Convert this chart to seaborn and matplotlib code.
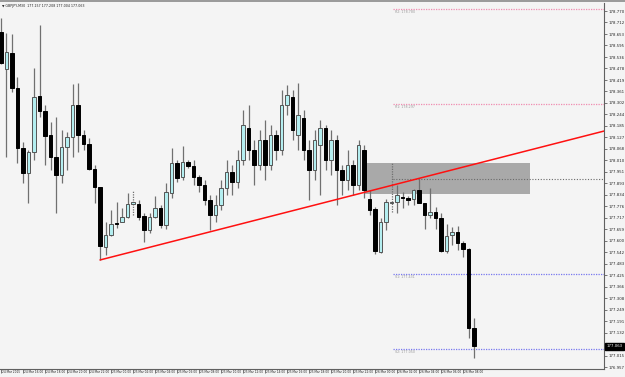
import numpy as np
import pandas as pd
import seaborn as sns
import matplotlib.pyplot as plt
import matplotlib.transforms as mtransforms
from matplotlib.patches import Rectangle

# GBPJPY M30 candles
opens = [178.663, 178.475, 178.556, 178.378, 178.073, 177.945, 178.052, 178.337, 178.261, 178.139,
         178.027, 177.935, 178.078, 178.129, 178.292, 178.139, 178.093, 177.966, 177.874, 177.569,
         177.630, 177.691, 177.696, 177.721, 177.788, 177.788, 177.727, 177.655, 177.721, 177.767,
         177.681, 177.844, 177.996, 177.925, 178.001, 177.981, 177.925, 177.884, 177.808, 177.732,
         177.783, 177.869, 177.951, 177.900, 178.012, 178.175, 178.062, 177.986, 178.113, 177.986,
         178.139, 178.062, 178.292, 178.332, 178.139, 178.226, 178.062, 177.961, 178.088, 178.175,
         178.012, 178.113, 177.961, 177.910, 177.986, 177.884, 178.062, 177.813, 177.762, 177.543,
         177.696, 177.793, 177.798, 177.823, 177.818, 177.813, 177.859, 177.793, 177.732, 177.747,
         177.716, 177.548, 177.630, 177.645, 177.589, 177.559, 177.157]
highs = [178.734, 178.658, 178.653, 178.434, 178.103, 178.062, 178.480, 178.699, 178.292, 178.205,
         178.230, 178.164, 178.154, 178.398, 178.404, 178.164, 178.124, 177.986, 177.874, 177.696,
         177.757, 177.798, 177.767, 177.844, 177.859, 177.808, 177.742, 177.742, 177.828, 177.783,
         177.895, 178.073, 178.012, 178.083, 178.012, 178.012, 177.935, 177.910, 177.834, 177.834,
         177.910, 178.012, 177.986, 178.062, 178.266, 178.292, 178.113, 178.164, 178.215, 178.190,
         178.164, 178.368, 178.393, 178.368, 178.404, 178.266, 178.113, 178.164, 178.215, 178.190,
         178.164, 178.139, 177.986, 178.062, 178.012, 178.113, 178.088, 177.859, 177.772, 177.716,
         177.813, 177.996, 177.884, 177.849, 177.828, 177.864, 177.920, 177.793, 177.869, 177.772,
         177.742, 177.686, 177.671, 177.676, 177.599, 177.564, 177.208]
lows = [178.500, 178.027, 178.358, 177.996, 177.895, 177.793, 178.012, 178.230, 177.986, 177.961,
        177.742, 177.895, 177.961, 178.027, 178.052, 178.062, 177.961, 177.793, 177.503, 177.528,
        177.625, 177.665, 177.694, 177.718, 177.732, 177.706, 177.594, 177.640, 177.716, 177.665,
        177.660, 177.818, 177.900, 177.910, 177.971, 177.884, 177.849, 177.783, 177.655, 177.696,
        177.757, 177.834, 177.834, 177.869, 177.986, 178.012, 177.884, 177.961, 177.910, 177.961,
        178.012, 178.037, 178.241, 178.113, 178.062, 178.012, 177.808, 177.910, 177.834, 177.961,
        177.935, 177.783, 177.834, 177.859, 177.834, 177.859, 177.818, 177.732, 177.533, 177.538,
        177.655, 177.747, 177.742, 177.767, 177.783, 177.783, 177.793, 177.660, 177.716, 177.660,
        177.543, 177.538, 177.579, 177.553, 177.518, 177.106, 177.004]
closes = [178.505, 178.561, 178.378, 178.073, 177.945, 178.052, 178.332, 178.261, 178.134, 178.027,
          177.935, 178.078, 178.129, 178.292, 178.139, 178.093, 177.966, 177.874, 177.574, 177.630,
          177.686, 177.686, 177.721, 177.788, 177.798, 177.721, 177.655, 177.721, 177.767, 177.681,
          177.849, 177.996, 177.920, 178.001, 177.981, 177.925, 177.884, 177.808, 177.732, 177.783,
          177.869, 177.951, 177.900, 178.012, 178.190, 178.062, 177.986, 178.113, 177.986, 178.139,
          178.062, 178.292, 178.342, 178.164, 178.241, 178.062, 177.961, 178.113, 178.175, 178.012,
          178.113, 177.961, 177.910, 177.986, 177.884, 178.088, 177.859, 177.757, 177.548, 177.696,
          177.798, 177.798, 177.834, 177.818, 177.808, 177.859, 177.793, 177.732, 177.747, 177.716,
          177.548, 177.625, 177.645, 177.589, 177.559, 177.156, 177.063]
dotted_wicks = [24, 71]

time_labels = ["24 Mar 2015", "24 Mar 16:00", "24 Mar 18:00", "24 Mar 20:00", "24 Mar 22:00",
               "25 Mar 00:00", "25 Mar 02:00", "25 Mar 04:00", "25 Mar 06:00", "25 Mar 08:00",
               "25 Mar 10:00", "25 Mar 12:00", "25 Mar 14:00", "25 Mar 16:00", "25 Mar 18:00",
               "25 Mar 20:00", "25 Mar 22:00", "26 Mar 00:00", "26 Mar 02:00", "26 Mar 04:00",
               "26 Mar 06:00", "26 Mar 08:00"]
price_ticks = [178.770, 178.712, 178.653, 178.595, 178.536, 178.478, 178.419, 178.361, 178.302,
               178.244, 178.185, 178.127, 178.068, 178.010, 177.951, 177.893, 177.834, 177.776,
               177.717, 177.659, 177.600, 177.542, 177.483, 177.425, 177.366, 177.308, 177.249,
               177.191, 177.132, 177.015, 176.957]

pivots = {"R2": 178.780, "R1": 178.297, "S1": 177.431, "S2": 177.050}
zone_top, zone_bottom = 177.996, 177.838
zone_line = 177.915
trend_x = [18, 110]
trend_y = [177.503, 178.162]
last_price = 177.063

df = pd.DataFrame({"open": opens, "high": highs, "low": lows, "close": closes})
df["x"] = np.arange(len(df))
df["bull"] = df["close"] >= df["open"]

bg = "#f4f4f4"
sns.set_theme(style="white", rc={"axes.facecolor": bg, "figure.facecolor": bg})
plt.rcParams["font.family"] = ["DejaVu Sans"]

fig = plt.figure(figsize=(6.25, 3.77), dpi=100)
ax = fig.add_axes([0.0, 1 - 369 / 377, 604 / 625, 366 / 377])
ax.set_xlim(-0.18, 109.6)
ax.set_ylim(176.948, 178.811)

# zone box behind the candles
ax.add_patch(Rectangle((66.2, zone_bottom), 30.0, zone_top - zone_bottom,
                       facecolor="#a9a9a9", edgecolor="none", zorder=1))
ax.hlines(zone_line, 71.3, 110, colors="#6a6a6a", linestyles=(0, (1, 1.5)), lw=0.8, zorder=1.5)

# wicks
for i, r in df.iterrows():
    ls = (0, (1, 1)) if i in dotted_wicks else "-"
    ax.vlines(r["x"], r["low"], r["high"], colors="#707070", linestyles=ls, lw=0.9, zorder=2)

# bodies
body_lo = df[["open", "close"]].min(axis=1)
body_h = (df["open"] - df["close"]).abs().clip(lower=0.0025)
ax.bar(df["x"][df["bull"]], body_h[df["bull"]], bottom=body_lo[df["bull"]], width=0.62,
       color="#b4eef0", edgecolor="#555555", linewidth=0.7, zorder=3)
ax.bar(df["x"][~df["bull"]], body_h[~df["bull"]], bottom=body_lo[~df["bull"]], width=0.62,
       color="black", edgecolor="black", linewidth=0.7, zorder=3)

# pivot levels
piv_colors = {"R2": "#f08cb0", "R1": "#f08cb0", "S1": "#7878f0", "S2": "#7878f0"}
for name, val in pivots.items():
    ax.hlines(val, 71.3, 110, colors=piv_colors[name], linestyles=(0, (1, 1)), lw=0.9, zorder=1.5)
    ax.text(71.7, val - 0.006, f"{name}: {val:.3f}", fontsize=2.3, color="#9a9a9a",
            va="top", ha="left", zorder=4)

# trend line
sns.lineplot(x=trend_x, y=trend_y, ax=ax, color="#ff1010", lw=1.1, zorder=5)

# axes styling
for s in ["left", "top"]:
    ax.spines[s].set_visible(False)
for s in ["right", "bottom"]:
    ax.spines[s].set_color("#606060")
    ax.spines[s].set_linewidth(0.8)

ax.yaxis.tick_right()
ax.set_yticks(price_ticks)
ax.set_yticklabels([f"{p:.3f}" for p in price_ticks])
ax.tick_params(axis="y", which="both", right=True, length=2, width=0.6, color="#606060",
               labelsize=2.8, pad=1.2, labelcolor="#222222")

# time axis: ticks every 4 bars, labels to the right of each tick
tick_pos = df["x"].values[::4][:len(time_labels)]
ax.set_xticks(tick_pos)
ax.set_xticklabels([])
ax.tick_params(axis="x", bottom=True, length=3, width=0.6, color="#606060")
xtrans = mtransforms.blended_transform_factory(ax.transData, ax.transAxes)
for pos, lab in zip(tick_pos, time_labels):
    ax.text(pos + 0.2, -0.004, lab, transform=xtrans, fontsize=2.1, color="#222222",
            va="top", ha="left", clip_on=False)

# current price tag
trans = mtransforms.blended_transform_factory(ax.transAxes, ax.transData)
ax.text(1.004, last_price, f"{last_price:.3f}", transform=trans, fontsize=2.8, color="white",
        va="center", ha="left", clip_on=False, zorder=6,
        bbox=dict(boxstyle="square,pad=0.3", facecolor="black", edgecolor="black"))

# header
fig.text(0.004, 0.99, "\u25bc GBPJPY,M30  177.157 177.208 177.004 177.063", fontsize=2.3,
         color="#222222", va="top", ha="left")
fig.add_artist(plt.Line2D([0, 1], [0.997, 0.997], color="#8a8a8a", lw=1.2))

fig.savefig("out.png", dpi=100, facecolor=bg)
